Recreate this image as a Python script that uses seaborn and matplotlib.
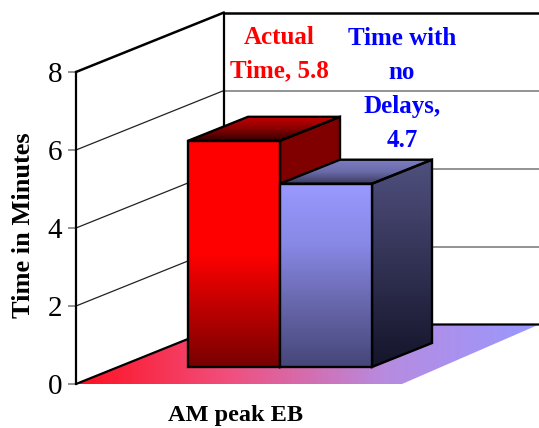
import matplotlib
matplotlib.use("Agg")
import matplotlib.pyplot as plt
from matplotlib.colors import LinearSegmentedColormap
from matplotlib.patches import Polygon
import numpy as np
import seaborn as sns

categories = ["Actual Time", "Time with no Delays"]
minutes = [5.8, 4.7]
bar_labels = ["Actual\nTime, 5.8", "Time with\nno\nDelays,\n4.7"]
label_colors = ["#ff0000", "#0000ff"]
y_ticks = [0, 2, 4, 6, 8]
x_title = "AM peak EB"
y_title = "Time in Minutes"

W, H = 539, 428
PX_PER_MIN = 39.0

sns.set_style("white")
plt.rcParams["font.family"] = ["Liberation Serif", "DejaVu Serif"]


def px_axes(fig, left, right, bottom, top):
    # axes rectangle given in image pixels (y measured from the top)
    ax = fig.add_axes([left / W, 1 - bottom / H, (right - left) / W, (bottom - top) / H])
    ax.patch.set_alpha(0)
    return ax


def gradient_face(ax, verts, colors, horizontal=False, edge=True, zorder=2):
    xlim, ylim = ax.get_xlim(), ax.get_ylim()
    verts = np.array(verts)
    ramp = np.linspace(0, 1, 256)
    ramp = ramp.reshape(1, -1) if horizontal else ramp.reshape(-1, 1)
    cmap = LinearSegmentedColormap.from_list("face", colors)
    im = ax.imshow(ramp, cmap=cmap, aspect="auto", origin="upper", zorder=zorder,
                   extent=[verts[:, 0].min(), verts[:, 0].max(), verts[:, 1].min(), verts[:, 1].max()])
    outline = Polygon(verts, closed=True, transform=ax.transData, facecolor="none",
                      edgecolor="black" if edge else "none", lw=1.7, joinstyle="miter",
                      zorder=zorder + 0.1, clip_on=False)
    ax.add_patch(outline)
    im.set_clip_path(outline)
    im.set_clip_box(ax.figure.bbox)
    ax.set_xlim(xlim)
    ax.set_ylim(ylim)


fig = plt.figure(figsize=(W / 100, H / 100), dpi=100)

# walls and floor, y axis in minutes, x in pixels
wall = px_axes(fig, 76, 539, 384, 72)
wall.set_xlim(0, 463)
wall.set_ylim(0, 8)
back_x, back_y = 148, 59.5 / PX_PER_MIN

gradient_face(wall, [(0, 0), (back_x, back_y), (463, back_y), (326, 0)],
              ["#ff1020", "#f0507f", "#b78be0", "#9999ff"], horizontal=True, edge=False, zorder=1)

for t in y_ticks[1:]:
    lw, col = (1.8, "black") if t == 8 else (0.9, "#222222")
    wall.plot([0, back_x], [t, t + back_y], color=col, lw=lw, clip_on=False, zorder=1.5)
    if t != 8:
        wall.plot([back_x, 463], [t + back_y, t + back_y], color="#808080", lw=1.2, clip_on=False, zorder=1.5)
wall.plot([back_x, 463], [8 + back_y, 8 + back_y], color="black", lw=1.8, clip_on=False, zorder=1.5)
wall.plot([back_x, back_x], [back_y, 8 + back_y], color="black", lw=1.6, clip_on=False, zorder=1.5)
wall.plot([0, back_x, 463], [0, back_y, back_y], color="black", lw=1.6, clip_on=False, zorder=1.6)

sns.despine(ax=wall, top=True, right=True, bottom=True, left=False)
wall.spines["left"].set_color("black")
wall.spines["left"].set_linewidth(1.6)
wall.set_xticks([])
wall.set_yticks(y_ticks)
wall.tick_params(axis="y", length=6, width=1.2, color="#808080", labelcolor="black",
                 labelsize=21, pad=4, left=True)
wall.set_ylabel(y_title, fontsize=19, fontweight="bold", color="black", va="center")
wall.yaxis.set_label_coords(-52 / 463, 0.51)
wall.set_xlabel(x_title, fontsize=17.5, fontweight="bold", color="black", va="center")
wall.xaxis.set_label_coords(159 / 463, -32 / 312)

# bars sit on their own axes, shifted forward from the wall
bars = px_axes(fig, 188, 372, 367, 55)
sns.barplot(x=categories, y=minutes, hue=categories, palette=["#ff0000", "#9999ff"],
            width=1, dodge=False, legend=False, ax=bars)
bars.set_xlim(-0.5, 1.5)
bars.set_ylim(0, 8)
bars.axis("off")

depth_x, depth_y = 60 / 92, 24 / PX_PER_MIN
front_cols = [["#ff0000", "#ff0000", "#780000"], ["#9999ff", "#8888e6", "#6666aa", "#46467a"]]
side_cols = [["#800000", "#800000"], ["#50507f", "#14142a"]]
top_cols = [["#c80000", "#8a0000", "#300000"], ["#7c7cc4", "#6a6aa8", "#38385e"]]

# draw the back bar parts first so the shorter bar overlaps correctly
for i, patch in enumerate(bars.patches[:2]):
    x0, x1 = patch.get_x(), patch.get_x() + patch.get_width()
    h = patch.get_height()
    patch.set_visible(False)
    z = 2 + i
    gradient_face(bars, [(x1, 0), (x1 + depth_x, depth_y), (x1 + depth_x, h + depth_y), (x1, h)],
                  side_cols[i], zorder=z)
    gradient_face(bars, [(x0, h), (x1, h), (x1 + depth_x, h + depth_y), (x0 + depth_x, h + depth_y)],
                  top_cols[i], zorder=z)
    gradient_face(bars, [(x0, 0), (x1, 0), (x1, h), (x0, h)], front_cols[i], zorder=z + 0.3)

label_offsets = [(45, 58), (76, 32)]
for i, patch in enumerate(bars.patches[:2]):
    cx = patch.get_x() + patch.get_width() / 2
    bars.annotate(bar_labels[i], xy=(cx, patch.get_height()), xytext=label_offsets[i],
                  textcoords="offset pixels", ha="center", va="bottom", color=label_colors[i],
                  fontsize=18, fontweight="bold", linespacing=1.6, annotation_clip=False, zorder=6)

fig.savefig("out.png", dpi=100)
